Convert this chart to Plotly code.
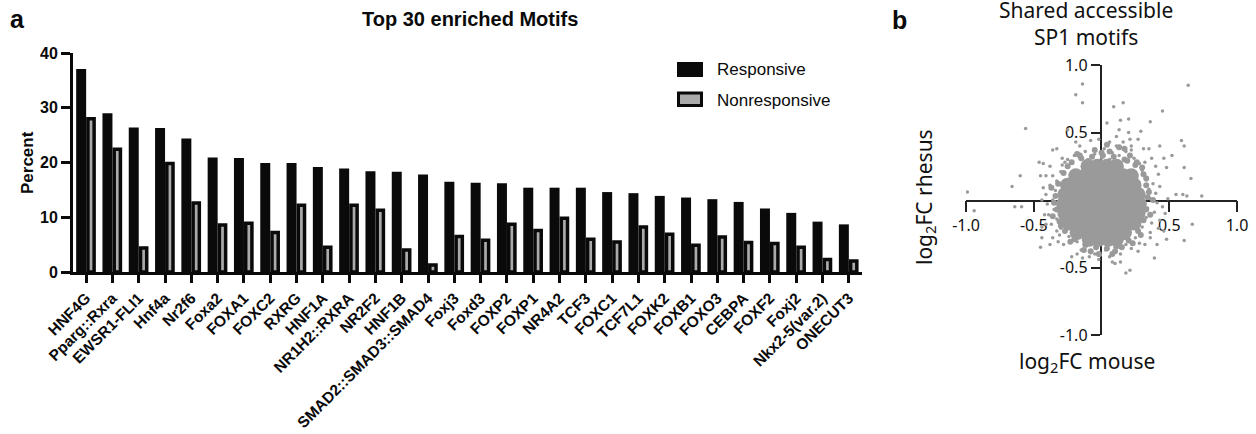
import plotly.graph_objects as go

# ---------------- data: panel a ----------------
motifs = ["HNF4G", "Pparg::Rxra", "EWSR1-FLI1", "Hnf4a", "Nr2f6", "Foxa2", "FOXA1", "FOXC2",
          "RXRG", "HNF1A", "NR1H2::RXRA", "NR2F2", "HNF1B", "SMAD2::SMAD3::SMAD4", "Foxj3",
          "Foxd3", "FOXP2", "FOXP1", "NR4A2", "TCF3", "FOXC1", "TCF7L1", "FOXK2", "FOXB1",
          "FOXO3", "CEBPA", "FOXF2", "Foxj2", "Nkx2-5(var.2)", "ONECUT3"]
responsive = [37.1, 29.0, 26.4, 26.3, 24.4, 20.9, 20.8, 19.9, 19.9, 19.2, 18.9, 18.4, 18.3, 17.8,
              16.5, 16.3, 16.2, 15.4, 15.4, 15.4, 14.6, 14.4, 13.9, 13.6, 13.3, 12.8, 11.6, 10.8,
              9.2, 8.7]
nonresponsive = [28.0, 22.4, 4.4, 19.8, 12.6, 8.6, 8.9, 7.2, 12.2, 4.5, 12.2, 11.3, 4.0, 1.3,
                 6.5, 5.8, 8.7, 7.6, 9.8, 6.0, 5.5, 8.2, 6.9, 4.9, 6.4, 5.4, 5.2, 4.5, 2.3, 2.0]
bar_ticks = [0, 10, 20, 30, 40]

# ---------------- data: panel b ----------------
# dense core of the cloud
core_x = [-0.10, -0.03, 0.04, 0.11,
          -0.19, -0.12, -0.05, 0.02, 0.09, 0.16, 0.22,
          -0.25, -0.18, -0.11, -0.04, 0.03, 0.10, 0.17, 0.24,
          -0.27, -0.20, -0.13, -0.06, 0.01, 0.08, 0.15, 0.22, 0.27,
          -0.28, -0.21, -0.14, -0.07, 0.00, 0.07, 0.14, 0.21, 0.28,
          -0.27, -0.20, -0.13, -0.06, 0.01, 0.08, 0.15, 0.22, 0.27,
          -0.24, -0.17, -0.10, -0.03, 0.04, 0.11, 0.18, 0.24,
          -0.18, -0.11, -0.04, 0.03, 0.10, 0.17,
          -0.09, -0.02, 0.05, 0.11]
core_y = [0.25, 0.25, 0.25, 0.25,
          0.18, 0.18, 0.18, 0.18, 0.18, 0.18, 0.18,
          0.11, 0.11, 0.11, 0.11, 0.11, 0.11, 0.11, 0.11,
          0.04, 0.04, 0.04, 0.04, 0.04, 0.04, 0.04, 0.04, 0.04,
          -0.03, -0.03, -0.03, -0.03, -0.03, -0.03, -0.03, -0.03, -0.03,
          -0.10, -0.10, -0.10, -0.10, -0.10, -0.10, -0.10, -0.10, -0.10,
          -0.17, -0.17, -0.17, -0.17, -0.17, -0.17, -0.17, -0.17,
          -0.24, -0.24, -0.24, -0.24, -0.24, -0.24,
          -0.29, -0.29, -0.29, -0.29]

# fuzzy rim of the cloud
rim_x = [-0.22, -0.15, -0.07, 0.01, 0.09, 0.17, 0.25, 0.31, 0.33, 0.34, 0.33, 0.31, 0.27,
         0.20, 0.12, 0.04, -0.04, -0.12, -0.20, -0.27, -0.31, -0.33, -0.34, -0.32, -0.28,
         -0.18, 0.06, 0.21, 0.30, -0.30, -0.08, 0.15, 0.29, -0.25, 0.00, -0.35, 0.35,
         -0.13, 0.19, -0.05, 0.26, -0.23, 0.10, 0.13, 0.04, 0.36, -0.37, -0.36, 0.33,
         0.08, -0.16, 0.23, 0.38, -0.02, 0.17]
rim_y = [0.28, 0.31, 0.32, 0.33, 0.32, 0.30, 0.26, 0.19, 0.11, 0.02, -0.07, -0.15, -0.23,
         -0.30, -0.34, -0.36, -0.35, -0.33, -0.29, -0.23, -0.16, -0.07, 0.03, 0.12, 0.20,
         0.34, 0.36, 0.33, 0.24, -0.19, -0.38, -0.35, -0.26, 0.25, 0.35, -0.02, 0.06,
         -0.37, 0.29, 0.37, 0.28, -0.31, -0.38, 0.39, 0.41, -0.11, 0.09, -0.12, 0.16,
         -0.40, 0.33, -0.32, 0.00, -0.40, 0.38]

# sparse points around the core and outliers
sparse_x = [-0.20, -0.12, -0.05, 0.02, 0.08, 0.13, 0.18, -0.16, 0.05, 0.11, -0.08, 0.24, -0.25, 0.00,
            -0.02, 0.16, 0.22, -0.10, 0.06,
            0.30, 0.33, 0.35, 0.36, 0.34, 0.33, 0.30, 0.38, 0.40, 0.41, 0.39, 0.37, 0.43, 0.45, 0.32,
            0.28, 0.42, 0.36,
            0.25, 0.18, 0.10, 0.03, -0.04, -0.11, -0.18, -0.24, 0.22, 0.14, 0.06, -0.01, -0.08, 0.28,
            -0.15, 0.27, 0.02, -0.02,
            -0.30, -0.33, -0.35, -0.36, -0.34, -0.33, -0.30, -0.39, -0.40, -0.41, -0.38, -0.36, -0.29,
            -0.37, -0.44, -0.43, -0.31, -0.27,
            -0.14, -0.19, -0.14, -0.56, -0.60, -0.66, -0.99, -0.33, -0.36, -0.46, -0.43, -0.38, -0.45,
            -0.41, -0.25, -0.19, -0.29,
            0.64, 0.09, 0.16, 0.45, 0.36, 0.04, 0.14, 0.20, 0.59, 0.61, 0.52, 0.43, 0.61, 0.66, 0.74,
            0.63, 0.55, 0.60, 0.46, 0.48, 0.40, 0.37, 0.29, 0.27, 0.21, 0.22, 0.31, 0.35, 0.13, 0.11,
            0.06, 0.20,
            -0.94, -0.64, -0.59, -0.45, -0.44, -0.38, -0.36, -0.32, -0.33, -0.28, -0.22, -0.18, -0.14,
            -0.09, -0.05, -0.42, -0.41, -0.44,
            0.67, 0.61, 0.48, 0.39, 0.18, 0.21, 0.10, 0.14, 0.08, 0.32, 0.36, 0.42, 0.46, 0.41, 0.49,
            0.47, 0.43]
sparse_y = [0.33, 0.36, 0.34, 0.38, 0.35, 0.33, 0.36, 0.40, 0.42, 0.40, 0.44, 0.31, 0.30, 0.31,
            0.45, 0.43, 0.40, 0.30, 0.30,
            0.22, 0.15, 0.08, 0.01, -0.06, -0.13, -0.20, 0.12, 0.05, -0.02, -0.09, -0.17, 0.10, -0.05,
            0.28, 0.27, 0.19, -0.24,
            -0.28, -0.33, -0.35, -0.37, -0.36, -0.34, -0.31, -0.27, -0.36, -0.40, -0.42, -0.41, -0.39,
            -0.32, -0.37, -0.38, -0.32, -0.44,
            -0.21, -0.14, -0.07, 0.00, 0.07, 0.14, 0.21, -0.11, -0.03, 0.04, 0.11, 0.18, 0.26,
            -0.18, 0.00, 0.09, -0.26, 0.28,
            0.86, 0.78, 0.72, 0.53, 0.18, 0.10, 0.06, 0.38, 0.37, 0.28, 0.27, 0.25, 0.18,
            0.18, 0.52, 0.43, 0.31,
            0.85, 0.69, 0.72, 0.66, 0.58, 0.57, 0.59, 0.60, 0.44, 0.40, 0.33, 0.40, 0.24, 0.16, 0.03,
            0.03, 0.04, 0.04, 0.31, 0.24, 0.25, 0.31, 0.51, 0.45, 0.45, 0.37, 0.38, 0.38, 0.52, 0.47,
            0.43, 0.50,
            -0.08, -0.05, -0.05, -0.35, -0.28, -0.33, -0.28, -0.31, -0.23, -0.33, -0.42, -0.40, -0.43,
            -0.42, -0.40, -0.11, -0.18, -0.20,
            -0.18, -0.30, -0.29, -0.43, -0.54, -0.52, -0.47, -0.46, -0.46, -0.33, -0.28, -0.21, -0.23,
            -0.33, 0.01, -0.10, -0.15]

b_ticks = [-1.0, -0.5, 0.5, 1.0]
b_ticktext = ["-1.0", "-0.5", "0.5", "1.0"]

# ---------------- figure ----------------
W, H = 1256, 434
BAR_FONT = "Liberation Sans, Arial, sans-serif"
B_FONT = "Noto Sans, Open Sans, sans-serif"
GRAY_PT = "#9a9a9a"

fig = go.Figure()

fig.add_trace(go.Bar(x=motifs, y=responsive, name="Responsive",
                     marker=dict(color="#0a0a0a", line=dict(width=0)),
                     offset=-0.38, width=0.38, showlegend=False,
                     xaxis="x", yaxis="y"))
fig.add_trace(go.Bar(x=motifs, y=nonresponsive, name="Nonresponsive",
                     marker=dict(color="#ababab", line=dict(width=3.5, color="#0a0a0a")),
                     offset=0.067, width=0.236, showlegend=False,
                     xaxis="x", yaxis="y"))

fig.add_trace(go.Scatter(x=core_x, y=core_y, mode="markers",
                         marker=dict(size=15, color=GRAY_PT, line=dict(width=0)),
                         showlegend=False, xaxis="x2", yaxis="y2"))
fig.add_trace(go.Scatter(x=rim_x, y=rim_y, mode="markers",
                         marker=dict(size=6, color=GRAY_PT, line=dict(width=0)),
                         showlegend=False, xaxis="x2", yaxis="y2"))
fig.add_trace(go.Scatter(x=sparse_x, y=sparse_y, mode="markers",
                         marker=dict(size=3.5, color=GRAY_PT, line=dict(width=0)),
                         showlegend=False, xaxis="x2", yaxis="y2"))

def px_x(p):
    return p / W

def px_y(p):
    return 1 - p / H

fig.update_layout(
    template="none",
    width=W, height=H, autosize=False,
    margin=dict(l=0, r=0, t=0, b=0, pad=0),
    paper_bgcolor="white", plot_bgcolor="rgba(0,0,0,0)",
    barmode="overlay",
    xaxis=dict(domain=[px_x(73), px_x(862)], range=[-0.5, 29.5], type="category",
               automargin=False,
               showline=True, linecolor="#0a0a0a", linewidth=3,
               ticks="outside", ticklen=8, tickwidth=3, tickcolor="#0a0a0a",
               tickangle=-45, showgrid=False, zeroline=False,
               tickfont=dict(family=BAR_FONT, size=15.5, color="#0a0a0a", weight="bold"),
               anchor="y"),
    yaxis=dict(domain=[px_y(272), px_y(53)], range=[0, 40], tickvals=bar_ticks,
               automargin=False,
               showline=True, linecolor="#0a0a0a", linewidth=3,
               ticks="outside", ticklen=9, tickwidth=3, tickcolor="#0a0a0a",
               showgrid=False, zeroline=False,
               tickfont=dict(family=BAR_FONT, size=16, color="#0a0a0a", weight="bold"),
               anchor="x"),
    xaxis2=dict(domain=[px_x(966), px_x(1237)], range=[-1, 1],
                automargin=False,
                tickvals=b_ticks, ticktext=b_ticktext,
                showline=True, linecolor="#222222", linewidth=1.5,
                ticks="outside", ticklen=11, tickwidth=1.5, tickcolor="#222222",
                showgrid=False, zeroline=False, layer="below traces",
                tickfont=dict(family=B_FONT, size=16, color="#111111"),
                anchor="free", position=px_y(200.5)),
    yaxis2=dict(domain=[px_y(335), px_y(65)], range=[-1, 1],
                automargin=False,
                tickvals=b_ticks, ticktext=b_ticktext,
                showline=True, linecolor="#222222", linewidth=1.5,
                ticks="outside", ticklen=9, tickwidth=1.5, tickcolor="#222222",
                showgrid=False, zeroline=False, layer="below traces",
                tickfont=dict(family=B_FONT, size=16, color="#111111"),
                anchor="free", position=px_x(1100.5)),
)

ann = []
# panel letters
ann.append(dict(text="<b>a</b>", x=px_x(17), y=px_y(19), xref="paper", yref="paper",
                showarrow=False, font=dict(family=BAR_FONT, size=25, color="#0a0a0a"),
                xanchor="center", yanchor="middle"))
ann.append(dict(text="<b>b</b>", x=px_x(900), y=px_y(20), xref="paper", yref="paper",
                showarrow=False, font=dict(family=BAR_FONT, size=25, color="#0a0a0a"),
                xanchor="center", yanchor="middle"))
# panel a title and y-title
ann.append(dict(text="<b>Top 30 enriched Motifs</b>", x=px_x(470), y=px_y(19),
                xref="paper", yref="paper", showarrow=False,
                font=dict(family=BAR_FONT, size=20, color="#0a0a0a"),
                xanchor="center", yanchor="middle"))
ann.append(dict(text="<b>Percent</b>", x=px_x(27), y=px_y(163), xref="paper", yref="paper",
                showarrow=False, textangle=-90,
                font=dict(family=BAR_FONT, size=17, color="#0a0a0a"),
                xanchor="center", yanchor="middle"))
# legend
ann.append(dict(text="Responsive", x=px_x(715), y=px_y(70), xref="paper", yref="paper",
                showarrow=False, font=dict(family=BAR_FONT, size=17, color="#0a0a0a"),
                xanchor="left", yanchor="middle"))
ann.append(dict(text="Nonresponsive", x=px_x(715), y=px_y(100), xref="paper", yref="paper",
                showarrow=False, font=dict(family=BAR_FONT, size=17, color="#0a0a0a"),
                xanchor="left", yanchor="middle"))
# panel b title and axis titles
ann.append(dict(text="Shared accessible<br>SP1 motifs", x=px_x(1086), y=px_y(23),
                xref="paper", yref="paper", showarrow=False,
                font=dict(family=B_FONT, size=21, color="#111111"),
                xanchor="center", yanchor="middle"))
ann.append(dict(text="log<sub>2</sub>FC mouse", x=px_x(1087), y=px_y(362),
                xref="paper", yref="paper", showarrow=False,
                font=dict(family=B_FONT, size=21, color="#111111"),
                xanchor="center", yanchor="middle"))
ann.append(dict(text="log<sub>2</sub>FC rhesus", x=px_x(925), y=px_y(197),
                xref="paper", yref="paper", showarrow=False, textangle=-90,
                font=dict(family=B_FONT, size=21, color="#111111"),
                xanchor="center", yanchor="middle"))
fig.update_layout(annotations=ann)

shapes = [
    dict(type="rect", xref="paper", yref="paper",
         x0=px_x(677), x1=px_x(703), y0=px_y(77), y1=px_y(62),
         fillcolor="#0a0a0a", line=dict(width=0)),
    dict(type="rect", xref="paper", yref="paper",
         x0=px_x(678.5), x1=px_x(701.5), y0=px_y(105.5), y1=px_y(93),
         fillcolor="#ababab", line=dict(width=3, color="#0a0a0a")),
]
fig.update_layout(shapes=shapes)

fig.write_html("out.html", config={"displayModeBar": False},
               post_script="document.body.style.margin='0';document.body.style.padding='0';")
